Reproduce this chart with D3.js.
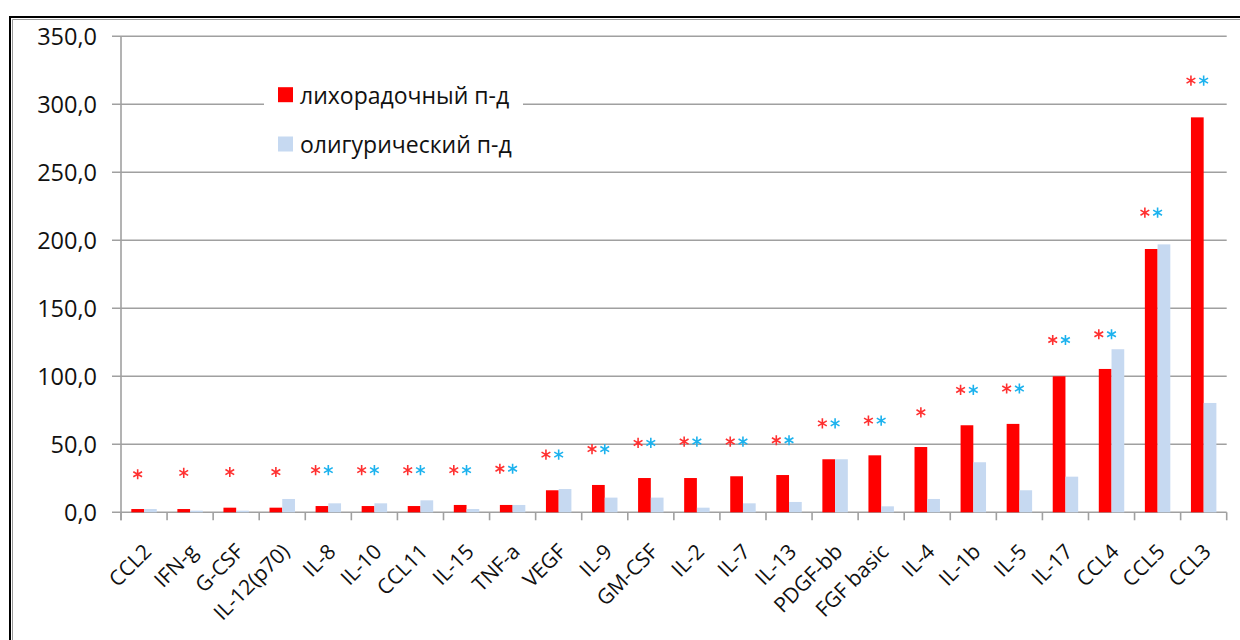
<!DOCTYPE html>
<html>
<head>
<meta charset="utf-8">
<script src="https://cdn.jsdelivr.net/npm/d3@7"></script>
<style>
  html, body { margin: 0; padding: 0; background: #fff; }
  svg { display: block; }
  text { font-family: "Open Sans", "Noto Sans", "DejaVu Sans", sans-serif; fill: #111; }
</style>
</head>
<body>
<svg id="chart" width="1240" height="640"></svg>
<script>
// Cytokine levels by disease period
const categories = ["CCL2", "IFN-g", "G-CSF", "IL-12(p70)", "IL-8", "IL-10", "CCL11", "IL-15", "TNF-a",
  "VEGF", "IL-9", "GM-CSF", "IL-2", "IL-7", "IL-13", "PDGF-bb", "FGF basic", "IL-4", "IL-1b", "IL-5",
  "IL-17", "CCL4", "CCL5", "CCL3"];
const seriesNames = ["лихорадочный п-д", "олигурический п-д"];
const feverValues = [2.4, 2.4, 3.4, 3.4, 4.6, 4.6, 4.6, 5.4, 5.4, 16.2, 20.1, 25.2, 25.2, 26.5, 27.4,
  39.0, 41.9, 48.0, 64.0, 65.0, 100.0, 105.4, 193.6, 290.4];
const oliguricValues = [2.4, 1.2, 1.2, 9.8, 6.6, 6.6, 8.8, 2.4, 5.4, 17.1, 10.8, 10.8, 3.4, 6.6, 7.6,
  39.0, 4.4, 9.8, 36.8, 16.2, 26.2, 119.9, 197.0, 80.4];
// Significance marks: level (in axis units) and which periods are marked
const markLevels = [28, 29, 29.6, 29.6, 31, 31, 31, 31, 32, 42.4, 46.5, 51, 52, 52, 53,
  65.4, 67.4, 73.5, 90, 91, 126.7, 130.9, 220.3, 317.4];
const markFever = [1, 1, 1, 1, 1, 1, 1, 1, 1, 1, 1, 1, 1, 1, 1, 1, 1, 1, 1, 1, 1, 1, 1, 1];
const markOliguric = [0, 0, 0, 0, 1, 1, 1, 1, 1, 1, 1, 1, 1, 1, 1, 1, 1, 0, 1, 1, 1, 1, 1, 1];
const yTicks = [0, 50, 100, 150, 200, 250, 300, 350];

const colors = { fever: "#ff0000", oliguric: "#c6d9f1", markFever: "#ff3030", markOliguric: "#1cb2ee", grid: "#a0a0a0" };

const svg = d3.select("#chart");

// Outer frame (double line along top and left)
svg.append("path").attr("d", "M10,640 V17 H1240").attr("fill", "none").attr("stroke", "#000").attr("stroke-width", 2);
svg.append("path").attr("d", "M12.5,640 V19.5 H1240").attr("fill", "none").attr("stroke", "#9a9a9a").attr("stroke-width", 1);

const plotLeft = 121, plotRight = 1226.7, plotTop = 36.3, plotBottom = 512.3;

const x = d3.scaleBand().domain(categories).range([plotLeft, plotRight]).padding(0);
const xs = d3.scaleBand().domain(["fever", "oliguric"]).range([0, x.bandwidth()]).paddingInner(0).paddingOuter(0.81);
const y = d3.scaleLinear().domain([0, 350]).range([plotBottom, plotTop]);

const fmtLocale = d3.formatLocale({ decimal: ",", thousands: " ", grouping: [3], currency: ["", ""] });
const fmt = fmtLocale.format(".1f");

// Horizontal gridlines with outward tick stubs
svg.append("g").selectAll("line").data(yTicks).join("line")
  .attr("x1", plotLeft - 9).attr("x2", plotRight)
  .attr("y1", d => y(d)).attr("y2", d => y(d))
  .attr("stroke", colors.grid).attr("stroke-width", 1.6);

// Y axis labels
svg.append("g").selectAll("text").data(yTicks).join("text")
  .attr("x", plotLeft - 24).attr("y", d => y(d))
  .attr("text-anchor", "end").attr("dominant-baseline", "central")
  .style("font-size", "23.5px")
  .text(d => fmt(d));

// Y axis line
svg.append("line").attr("x1", plotLeft).attr("x2", plotLeft).attr("y1", plotTop).attr("y2", plotBottom + 8)
  .attr("stroke", colors.grid).attr("stroke-width", 1.6);

// X axis ticks at category boundaries
const boundaries = categories.map(c => x(c)).concat([plotRight]);
svg.append("g").selectAll("line").data(boundaries).join("line")
  .attr("x1", d => d).attr("x2", d => d).attr("y1", plotBottom).attr("y2", plotBottom + 8)
  .attr("stroke", colors.grid).attr("stroke-width", 1.6);

// Legend (white box over gridlines)
const legend = svg.append("g");
legend.append("rect").attr("x", 264).attr("y", 74).attr("width", 259).attr("height", 92).attr("fill", "#fff");
const legendItems = [
  { name: seriesNames[0], color: colors.fever, cy: 94.7 },
  { name: seriesNames[1], color: colors.oliguric, cy: 144 }
];
legend.selectAll("rect.sw").data(legendItems).join("rect").attr("class", "sw")
  .attr("x", 278).attr("y", d => d.cy - 7.5).attr("width", 15).attr("height", 15).attr("fill", d => d.color);
legend.selectAll("text").data(legendItems).join("text")
  .attr("x", 300).attr("y", d => d.cy).attr("dominant-baseline", "central")
  .style("font-size", "23px").text(d => d.name);

// Bars
const barsG = svg.append("g");
barsG.selectAll("rect.f").data(categories).join("rect").attr("class", "f")
  .attr("x", c => x(c) + xs("fever")).attr("width", xs.bandwidth())
  .attr("y", (c, i) => y(feverValues[i])).attr("height", (c, i) => y(0) - y(feverValues[i]))
  .attr("fill", colors.fever);
barsG.selectAll("rect.o").data(categories).join("rect").attr("class", "o")
  .attr("x", c => x(c) + xs("oliguric")).attr("width", xs.bandwidth())
  .attr("y", (c, i) => y(oliguricValues[i])).attr("height", (c, i) => y(0) - y(oliguricValues[i]))
  .attr("fill", colors.oliguric);

// Significance asterisks
const star = d3.symbol().type(d3.symbolAsterisk).size(72)();
const marks = [];
categories.forEach((c, i) => {
  const mid = x(c) + xs("oliguric");
  const bw = xs.bandwidth();
  const both = markFever[i] && markOliguric[i];
  if (markFever[i]) marks.push({ x: both ? mid - bw : mid - bw / 2, y: y(markLevels[i]), color: colors.markFever });
  if (markOliguric[i]) marks.push({ x: both ? mid : mid + bw / 2, y: y(markLevels[i]), color: colors.markOliguric });
});
svg.append("g").selectAll("path").data(marks).join("path")
  .attr("d", star).attr("transform", d => `translate(${d.x},${d.y})`)
  .attr("fill", "none").attr("stroke", d => d.color).attr("stroke-width", 1.6);

// X labels rotated
svg.append("g").selectAll("text").data(categories).join("text")
  .attr("transform", c => `translate(${x(c) + x.bandwidth() / 2 + 3},${plotBottom + 35}) rotate(-45)`)
  .attr("text-anchor", "end").attr("dominant-baseline", "central")
  .style("font-size", "21px")
  .text(c => c);
</script>
</body>
</html>
